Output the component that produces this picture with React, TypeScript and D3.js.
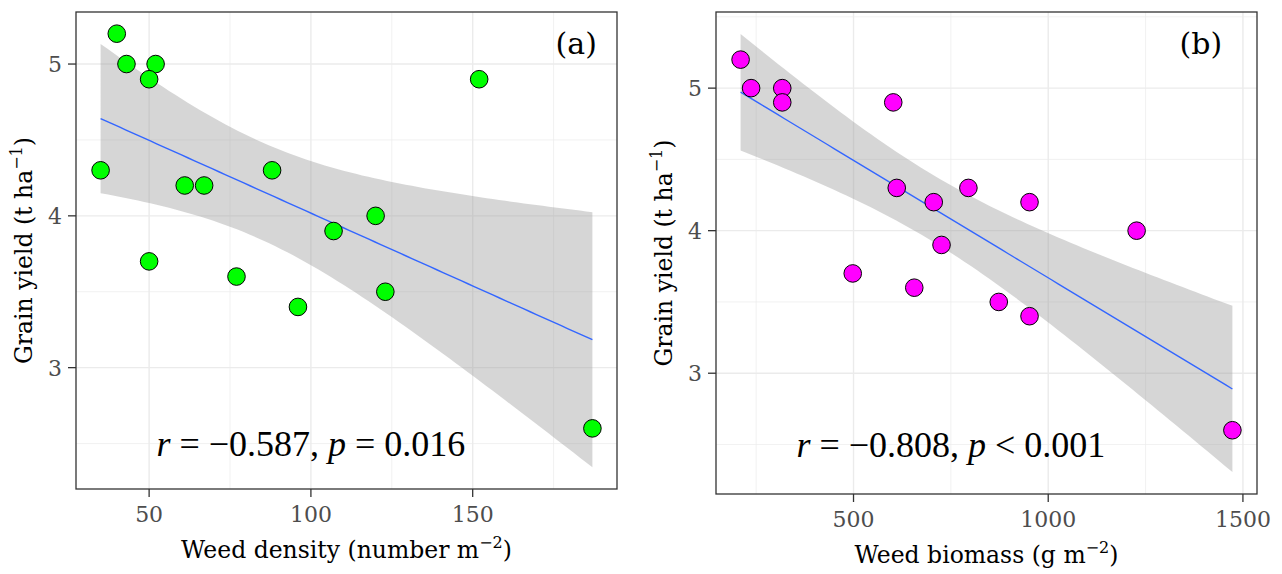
import React from "react";
import * as d3 from "d3";

// ---- data ----
const densityX = [40, 43, 52, 50, 152, 35, 61, 67, 88, 120, 107, 50, 77, 96, 123, 187];
const yieldA = [5.2, 5.0, 5.0, 4.9, 4.9, 4.3, 4.2, 4.2, 4.3, 4.0, 3.9, 3.7, 3.6, 3.4, 3.5, 2.6];

const biomassX = [210, 237, 317, 317, 602, 611, 706, 795, 952, 1227, 726, 498, 656, 873, 952, 1473];
const yieldB = [5.2, 5.0, 5.0, 4.9, 4.9, 4.3, 4.2, 4.3, 4.2, 4.0, 3.9, 3.7, 3.6, 3.5, 3.4, 2.6];

const densityTicks = [50, 100, 150];
const biomassTicks = [500, 1000, 1500];
const yieldTicks = [3, 4, 5];

const statsA = { r: "−0.587", op: "=", p: "0.016" };
const statsB = { r: "−0.808", op: "<", p: "0.001" };

const W = 1282;
const H = 574;
const T_975_14 = 2.144787; // qt(0.975, df = 14)

function fitLm(xs: number[], ys: number[]) {
  const n = xs.length;
  const mx = d3.mean(xs) as number;
  const my = d3.mean(ys) as number;
  let sxx = 0, sxy = 0;
  xs.forEach((x, i) => {
    sxx += (x - mx) ** 2;
    sxy += (x - mx) * (ys[i] - my);
  });
  const b = sxy / sxx;
  const a = my - b * mx;
  let sse = 0;
  xs.forEach((x, i) => (sse += (ys[i] - (a + b * x)) ** 2));
  const s = Math.sqrt(sse / (n - 2));
  const [x0, x1] = d3.extent(xs) as [number, number];
  return d3.range(80).map((i) => {
    const x = x0 + ((x1 - x0) * i) / 79;
    const yh = a + b * x;
    const se = s * Math.sqrt(1 / n + (x - mx) ** 2 / sxx);
    return { x, y: yh, lo: yh - T_975_14 * se, hi: yh + T_975_14 * se };
  });
}

function expand(ext: [number, number]): [number, number] {
  const d = (ext[1] - ext[0]) * 0.05;
  return [ext[0] - d, ext[1] + d];
}

function minorBreaks(major: number[], dom: [number, number]) {
  const step = major[1] - major[0];
  const all = [major[0] - step, ...major, major[major.length - 1] + step];
  const out: number[] = [];
  for (let i = 0; i < all.length - 1; i++) {
    const m = (all[i] + all[i + 1]) / 2;
    if (m >= dom[0] && m <= dom[1]) out.push(m);
  }
  return out;
}

const SERIF = "'DejaVu Serif', serif";
const MATH = "'Liberation Serif', 'DejaVu Serif', serif";

type PanelProps = {
  xs: number[];
  ys: number[];
  fill: string;
  xTicks: number[];
  box: { l: number; r: number; t: number; b: number };
  titleX: React.ReactNode;
  titleYX: number;
  tag: string;
  tagX: number;
  stats: { r: string; op: string; p: string };
  statsX: number;
};

function Panel(p: PanelProps) {
  const fit = fitLm(p.xs, p.ys);
  const xDom = expand(d3.extent(p.xs) as [number, number]);
  const yAll = [...p.ys, ...fit.map((d) => d.lo), ...fit.map((d) => d.hi)];
  const yDom = expand(d3.extent(yAll) as [number, number]);
  const x = d3.scaleLinear().domain(xDom).range([p.box.l, p.box.r]);
  const y = d3.scaleLinear().domain(yDom).range([p.box.b, p.box.t]);
  const xMinor = minorBreaks(p.xTicks, xDom);
  const yMinor = minorBreaks(yieldTicks, yDom);
  const area = d3
    .area<any>()
    .x((d) => x(d.x))
    .y0((d) => y(d.lo))
    .y1((d) => y(d.hi));
  const line = d3
    .line<any>()
    .x((d) => x(d.x))
    .y((d) => y(d.y));
  const { l, r, t, b } = p.box;
  const cy = (t + b) / 2;
  return (
    <g>
      <rect x={l} y={t} width={r - l} height={b - t} fill="#FFFFFF" />
      {xMinor.map((v) => (
        <line key={"xm" + v} x1={x(v)} x2={x(v)} y1={t} y2={b} stroke="#EBEBEB" strokeWidth={0.7} />
      ))}
      {yMinor.map((v) => (
        <line key={"ym" + v} x1={l} x2={r} y1={y(v)} y2={y(v)} stroke="#EBEBEB" strokeWidth={0.7} />
      ))}
      {p.xTicks.map((v) => (
        <line key={"xg" + v} x1={x(v)} x2={x(v)} y1={t} y2={b} stroke="#EBEBEB" strokeWidth={1.4} />
      ))}
      {yieldTicks.map((v) => (
        <line key={"yg" + v} x1={l} x2={r} y1={y(v)} y2={y(v)} stroke="#EBEBEB" strokeWidth={1.4} />
      ))}
      <path d={area(fit) as string} fill="#999999" fillOpacity={0.4} />
      <path d={line(fit) as string} fill="none" stroke="#3366FF" strokeWidth={1.4} />
      {p.xs.map((v, i) => (
        <circle key={"pt" + i} cx={x(v)} cy={y(p.ys[i])} r={8.8} fill={p.fill} stroke="#000000" strokeWidth={1} />
      ))}
      <text
        x={x(p.statsX)}
        y={y(2.5) + 12.5}
        textAnchor="middle"
        fontFamily={MATH}
        fontSize={36}
        fill="#000000"
      >
        <tspan fontStyle="italic">r</tspan>
        <tspan>{" " + "= " + p.stats.r + ", "}</tspan>
        <tspan fontStyle="italic">p</tspan>
        <tspan>{" " + p.stats.op + " " + p.stats.p}</tspan>
      </text>
      <text x={x(p.tagX)} y={t + 42} textAnchor="middle" fontFamily={SERIF} fontSize={30} fill="#000000">
        {p.tag}
      </text>
      <rect x={l} y={t} width={r - l} height={b - t} fill="none" stroke="#333333" strokeWidth={1.3} />
      {p.xTicks.map((v) => (
        <g key={"xt" + v}>
          <line x1={x(v)} x2={x(v)} y1={b} y2={b + 8} stroke="#333333" strokeWidth={1.3} />
          <text x={x(v)} y={b + 33} textAnchor="middle" fontFamily={SERIF} fontSize={22} fill="#4D4D4D">
            {v}
          </text>
        </g>
      ))}
      {yieldTicks.map((v) => (
        <g key={"yt" + v}>
          <line x1={l - 8} x2={l} y1={y(v)} y2={y(v)} stroke="#333333" strokeWidth={1.3} />
          <text x={l - 14} y={y(v) + 8} textAnchor="end" fontFamily={SERIF} fontSize={22} fill="#4D4D4D">
            {v}
          </text>
        </g>
      ))}
      <text
        x={(l + r) / 2}
        y={b + 69}
        textAnchor="middle"
        fontFamily={SERIF}
        fontSize={23.5}
        fill="#000000"
      >
        {p.titleX}
      </text>
      <text
        transform={`translate(${p.titleYX},${cy}) rotate(-90)`}
        textAnchor="middle"
        fontFamily={SERIF}
        fontSize={23.5}
        fill="#000000"
      >
        <tspan>Grain yield (t ha</tspan>
        <tspan fontSize={16} dy={-10}>−1</tspan>
        <tspan dy={10}>)</tspan>
      </text>
    </g>
  );
}

export default function App() {
  return (
    <svg
      width={W}
      height={H}
      viewBox={`0 0 ${W} ${H}`}
      style={{ position: "absolute", left: 0, top: 0, display: "block", background: "#FFFFFF" }}
    >
      <rect x={0} y={0} width={W} height={H} fill="#FFFFFF" />
      <Panel
        xs={densityX}
        ys={yieldA}
        fill="#00FF00"
        xTicks={densityTicks}
        box={{ l: 76, r: 617, t: 12, b: 489 }}
        titleX={
          <>
            <tspan>Weed density (number m</tspan>
            <tspan fontSize={16} dy={-10}>−2</tspan>
            <tspan dy={10}>)</tspan>
          </>
        }
        titleYX={32}
        tag="(a)"
        tagX={182}
        stats={statsA}
        statsX={100}
      />
      <Panel
        xs={biomassX}
        ys={yieldB}
        fill="#FF00FF"
        xTicks={biomassTicks}
        box={{ l: 716, r: 1257, t: 12, b: 494 }}
        titleX={
          <>
            <tspan>Weed biomass (g m</tspan>
            <tspan fontSize={16} dy={-10}>−2</tspan>
            <tspan dy={10}>)</tspan>
          </>
        }
        titleYX={672}
        tag="(b)"
        tagX={1392}
        stats={statsB}
        statsX={750}
      />
    </svg>
  );
}
